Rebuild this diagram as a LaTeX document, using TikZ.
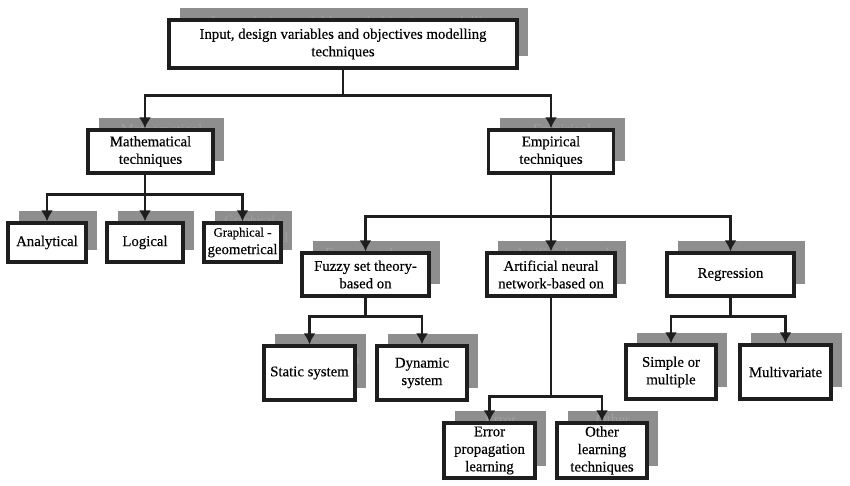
\documentclass[tikz,border=0pt]{standalone}
\usepackage{fontspec}
\setmainfont{Liberation Serif}
\newfontfamily\boxfont[FakeBold=0.35]{Liberation Serif}
\usetikzlibrary{arrows.meta}
\definecolor{shgray}{RGB}{142,142,142}
\definecolor{ghost}{RGB}{160,160,160}
\definecolor{edge}{RGB}{30,30,30}
\tikzset{
  mainbox/.style={draw=edge,line width=3.2pt,fill=white,align=center,inner sep=0pt,
    font=\boxfont\fontsize{14.8}{17.5}\selectfont},
  shadowbox/.style={fill=shgray,text=ghost,align=center,inner sep=0pt,
    font=\fontsize{14.8}{17.5}\selectfont},
  conn/.style={draw=edge,line width=2.4pt},
}
% box with its shadow: name, x, y, width, height, text
\newcommand{\shbox}[6]{%
  \node[shadowbox,minimum width=#4,minimum height=#5] at (#2+11,#3-12) {#6};
  \node[mainbox,minimum width=#4,minimum height=#5] (#1) at (#2,#3) {#6};}
\begin{document}
\begin{tikzpicture}[x=1pt,y=-1pt,>={Latex[length=11pt,width=12pt]}]
\useasboundingbox (0,0) rectangle (850,486);
\shbox{top}{343}{44}{348}{48}{Input, design variables and objectives modelling\\techniques}
\shbox{math}{150.5}{151.5}{125}{43}{Mathematical\\techniques}
\shbox{emp}{551}{151.5}{125}{43}{Empirical\\techniques}
\shbox{ana}{47}{242.5}{78}{39}{Analytical}
\shbox{log}{145}{242.5}{76}{39}{Logical}
\shbox{gra}{242.5}{242.5}{77}{39}{\fontsize{12.8}{15}\selectfont Graphical -\\geometrical}
\shbox{fuz}{365.5}{274.5}{127}{43}{Fuzzy set theory-\\based on}
\shbox{ann}{551}{274.5}{128}{43}{Artificial neural\\network-based on}
\shbox{reg}{730.5}{274.5}{127}{43}{Regression}
\shbox{sta}{309.5}{373}{91}{54}{Static system}
\shbox{dyn}{422}{373}{90}{54}{Dynamic\\system}
\shbox{sim}{671}{372}{90}{54}{Simple or\\multiple}
\shbox{mul}{785.5}{372}{91}{54}{Multivariate}
\shbox{err}{489.5}{450.5}{91}{55}{Error\\propagation\\learning}
\shbox{oth}{602}{450.5}{90}{55}{Other\\learning\\techniques}
% connectors
\draw[conn] (top.south) -- ++(0,26) coordinate (j0);
\draw[conn,->] (j0) -| (math.north -| log.north);
\draw[conn,->] (j0) -| (emp);
\draw[conn] (math.south -| log.north) -- ++(0,20) coordinate (j1);
\draw[conn,->] (j1) -| (ana);
\draw[conn,->] (j1) -- (log);
\draw[conn,->] (j1) -| (gra);
\draw[conn] (emp.south) -- ++(0,42) coordinate (j2);
\draw[conn,->] (j2) -| (fuz);
\draw[conn,->] (j2) -- (ann);
\draw[conn,->] (j2) -| (reg);
\draw[conn] (fuz.south) -- ++(0,19) coordinate (j3);
\draw[conn,->] (j3) -| (sta);
\draw[conn,->] (j3) -| (dyn);
\draw[conn] (ann.south) -- ++(0,99) coordinate (j4);
\draw[conn,->] (j4) -| (err);
\draw[conn,->] (j4) -| (oth);
\draw[conn] (reg.south) -- ++(0,19) coordinate (j5);
\draw[conn,->] (j5) -| (sim);
\draw[conn,->] (j5) -| (mul);
\end{tikzpicture}
\end{document}
